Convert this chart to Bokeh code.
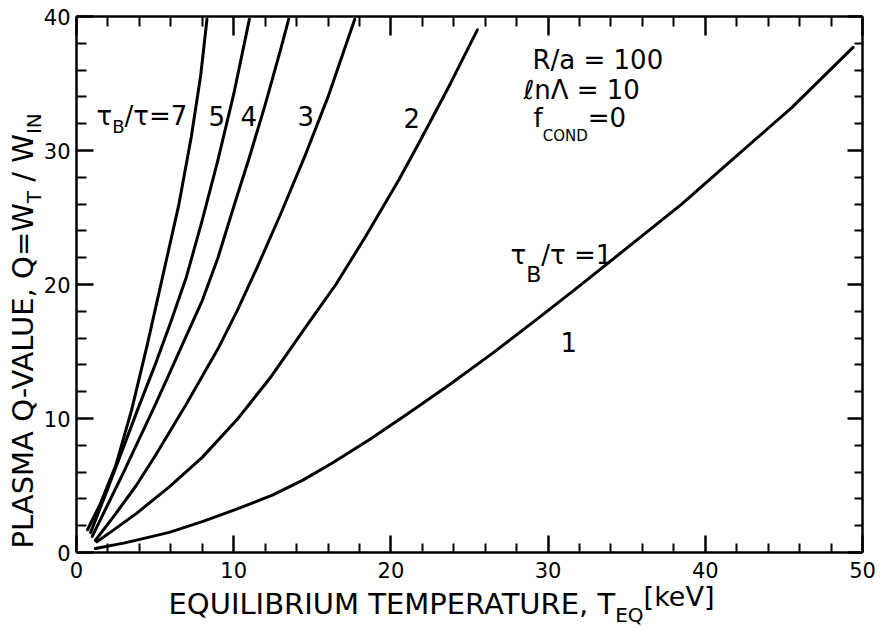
import math
from bokeh.plotting import figure
from bokeh.models import Range1d, LinearAxis, FixedTicker, Label
from bokeh.embed import file_html
from bokeh.resources import INLINE

# ---------------- data ----------------
# tau_B / tau = 1
t_r1 = [1.2, 3.0, 4.1, 5.9, 8.0, 10.1, 12.5, 14.4, 16.3, 18.6, 21.0, 23.7, 26.5, 29.5, 32.0, 35.2, 38.5, 41.5, 45.5, 49.4]
q_r1 = [0.3, 0.7, 1.0, 1.5, 2.3, 3.2, 4.3, 5.4, 6.7, 8.4, 10.3, 12.5, 14.9, 17.6, 19.9, 22.9, 26.0, 29.1, 33.2, 37.7]
# tau_B / tau = 2
t_r2 = [1.3, 2.5, 3.8, 5.9, 8.0, 10.2, 12.3, 14.8, 16.5, 18.4, 20.5, 21.8, 23.7, 25.5]
q_r2 = [0.8, 1.8, 2.9, 4.9, 7.1, 9.9, 13.0, 17.2, 20.0, 23.6, 27.8, 30.6, 34.8, 39.0]
# tau_B / tau = 3
t_r3 = [1.2, 2.5, 3.8, 5.0, 7.0, 9.0, 10.2, 11.5, 13.0, 14.5, 16.0, 17.7]
q_r3 = [0.9, 2.9, 5.0, 7.2, 11.1, 15.2, 18.0, 21.3, 25.3, 29.5, 34.0, 39.8]
# tau_B / tau = 4
t_r4 = [1.0, 2.0, 3.0, 4.0, 5.0, 6.0, 7.0, 8.0, 9.0, 10.0, 11.0, 12.0, 13.0, 13.5]
q_r4 = [1.2, 3.6, 6.0, 8.5, 11.0, 13.6, 16.2, 18.8, 22.0, 25.8, 29.5, 33.4, 37.6, 39.8]
# tau_B / tau = 5
t_r5 = [0.9, 2.0, 3.0, 4.0, 5.0, 6.0, 7.0, 8.0, 9.0, 10.0, 11.0]
q_r5 = [1.5, 4.8, 7.9, 11.0, 14.0, 17.2, 20.6, 24.8, 29.3, 34.2, 39.8]
# tau_B / tau = 7
t_r7 = [0.7, 1.5, 2.5, 3.5, 4.5, 5.5, 6.5, 7.3, 7.9, 8.3]
q_r7 = [1.7, 3.6, 6.5, 10.6, 15.5, 20.7, 25.9, 31.0, 35.6, 39.8]

curves = [(t_r1, q_r1), (t_r2, q_r2), (t_r3, q_r3), (t_r4, q_r4), (t_r5, q_r5), (t_r7, q_r7)]

x_limits = [0, 50]
y_limits = [0, 40]
x_major_ticks = [0, 10, 20, 30, 40, 50]
x_minor_ticks = [2, 4, 6, 8, 12, 14, 16, 18, 22, 24, 26, 28, 32, 34, 36, 38, 42, 44, 46, 48]
y_major_ticks = [0, 10, 20, 30, 40]
y_minor_ticks = [2, 4, 6, 8, 12, 14, 16, 18, 22, 24, 26, 28, 32, 34, 36, 38]

x_title = "EQUILIBRIUM TEMPERATURE, T"
x_title_sub = "EQ"
x_title_unit = "[keV]"
y_title_parts = ["PLASMA Q-VALUE, Q=W", "T", " / W", "IN"]

FONT = "DejaVu Sans"

# ---------------- geometry (page pixels) ----------------
W, H = 880, 626
FL, FR, FT, FB = 76, 862, 16, 552          # where the data box sits on the page
sx = (FR - FL) / (x_limits[1] - x_limits[0])
sy = (FB - FT) / (y_limits[1] - y_limits[0])
BASE_SHIFT = 0.40                           # label anchor correction (fraction of font size)

def dx(px):
    return x_limits[0] + (px - FL) / sx

def dy(py):
    return y_limits[0] + (FB - py) / sy

def text_width(s, size):
    try:
        from PIL import ImageFont
        return ImageFont.truetype("DejaVuSans.ttf", size).getlength(s)
    except Exception:
        return 0.62 * size * len(s)

p = figure(width=W, height=H, output_backend="svg", toolbar_location=None,
           x_range=Range1d(dx(0), dx(W)), y_range=Range1d(dy(H), dy(0)),
           x_axis_type=None, y_axis_type=None,
           min_border=0, min_border_left=0, min_border_right=0,
           min_border_top=0, min_border_bottom=0,
           background_fill_color="white", border_fill_color="white")
p.outline_line_color = None
if p.title is not None:
    p.title.visible = False

def make_axis(loc, bounds, majors, minors, show_labels, maj_in, min_in, standoff=8):
    ax = LinearAxis(fixed_location=loc, bounds=bounds,
                    ticker=FixedTicker(ticks=majors, minor_ticks=minors))
    ax.axis_line_width = 2.5
    ax.axis_line_color = "black"
    ax.major_tick_line_width = 2.5
    ax.minor_tick_line_width = 2
    ax.major_tick_line_color = "black"
    ax.minor_tick_line_color = "black"
    ax.major_tick_in = maj_in
    ax.major_tick_out = 0
    ax.minor_tick_in = min_in
    ax.minor_tick_out = 0
    if show_labels:
        ax.major_label_text_font = FONT
        ax.major_label_text_font_size = "21px"
        ax.major_label_text_color = "black"
        ax.major_label_standoff = standoff
    else:
        ax.major_label_text_font_size = "1px"
        ax.major_label_text_color = None
        ax.major_label_standoff = 0
    return ax

p.add_layout(make_axis(y_limits[0], tuple(x_limits), x_major_ticks, x_minor_ticks, True, 17, 9, 9), "below")
p.add_layout(make_axis(x_limits[0], tuple(y_limits), y_major_ticks, y_minor_ticks, True, 17, 10, 6), "left")
p.add_layout(make_axis(y_limits[1], tuple(x_limits), x_major_ticks, x_minor_ticks, False, 19, 10), "above")
p.add_layout(make_axis(x_limits[1], tuple(y_limits), y_major_ticks, y_minor_ticks, False, 15, 8), "right")

for t, q in curves:
    p.line(t, q, line_width=3, line_color="black", line_join="round", line_cap="round")

def put(text, px, py, size, angle=0.0):
    # px, py: intended baseline start on the page
    if angle == 0.0:
        py = py - BASE_SHIFT * size
    else:
        px = px - BASE_SHIFT * size
    p.add_layout(Label(x=dx(px), y=dy(py), text=text, text_font=FONT,
                       text_font_size=f"{size}px", text_color="black",
                       text_align="left", text_baseline="alphabetic", angle=angle))

def split_lead(text):
    stripped = text.lstrip(" ")
    return text[:len(text) - len(stripped)], stripped

def run_h(pieces, px, py):
    x = px
    for text, size, off in pieces:
        lead, body = split_lead(text)
        x += text_width(lead, size) if lead else 0
        put(body, x, py + off, size)
        x += text_width(body, size)

def run_v(pieces, px, py):
    y = py
    for text, size, off in pieces:
        lead, body = split_lead(text)
        y -= text_width(lead, size) if lead else 0
        put(body, px + off, y, size, angle=math.pi / 2)
        y -= text_width(body, size)

# curve labels
run_h([("τ", 26, 0), ("B", 18, 7), ("/τ=7", 26, 0)], 96, 126)
put("5", 208, 126, 26)
put("4", 240, 126, 26)
put("3", 297, 126, 26)
put("2", 403, 128, 26)
run_h([("τ", 26, 0), ("B", 22, 18), ("/τ =1", 26, 0)], 510, 265)
put("1", 560, 352, 26)

# parameters
put("R/a = 100", 532, 70, 26)
put("ℓnΛ = 10", 523, 100, 26)
run_h([("f", 26, 0), ("COND", 15, 13), ("=0", 26, 0)], 533, 128)

# axis titles
run_h([(x_title, 29, 0), (x_title_sub, 20, 7), (x_title_unit, 27, -8)], 168, 615)
run_v([(y_title_parts[0], 29, 0), (y_title_parts[1], 20, 7),
       (y_title_parts[2], 29, 0), (y_title_parts[3], 20, 7)], 34, 548)

open("out.html", "w").write(file_html(p, INLINE))
